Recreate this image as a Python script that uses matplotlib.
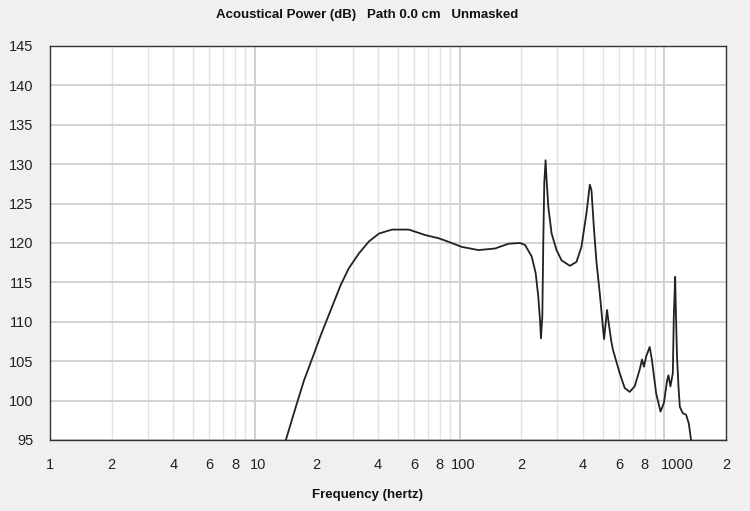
import matplotlib.pyplot as plt
from matplotlib.ticker import FixedLocator, NullFormatter

# frequency (Hz) and acoustical power (dB)
freq = [10, 14.18, 15.86, 17.41, 19.11, 21.0, 23.5, 26.3, 28.8, 32.3, 36.1,
        40.4, 46.8, 56.5, 68.1, 79.0, 85.2, 102.6, 123.7, 149.1, 173.1,
        197.4, 208.7, 224.9, 235.2, 242.3, 247.1, 249.6, 253.5, 256.4,
        259.2, 263.0, 266.0, 271.2, 281.4, 297.5, 314.7, 345.6, 372.2,
        393.6, 416.6, 432.5, 440.6, 452.3, 466, 483.8, 507.6, 525, 535,
        550.8, 561.6, 605, 640, 677, 716, 757, 778, 795, 815, 848, 869,
        912, 958, 995, 1032, 1047, 1071, 1100, 1112, 1129, 1137, 1153,
        1172, 1190, 1230, 1277, 1316, 1350, 1450]
power = [88, 95.0, 99.2, 102.6, 105.4, 108.3, 111.5, 114.7, 116.8, 118.7,
         120.2, 121.2, 121.7, 121.7, 121.0, 120.6, 120.3, 119.5, 119.1,
         119.3, 119.9, 120.0, 119.75, 118.3, 116.2, 113.2, 110.2, 107.9,
         110.6, 120.4, 127.6, 130.5, 128.0, 124.6, 121.2, 119.1, 117.8,
         117.1, 117.6, 119.5, 123.8, 127.4, 126.7, 122.1, 117.6, 113.6,
         107.8, 111.5, 109.8, 107.5, 106.4, 103.5, 101.6, 101.1, 101.8,
         103.9, 105.2, 104.3, 105.6, 106.8, 105.2, 100.9, 98.6, 99.7,
         102.6, 103.2, 101.8, 103.5, 110.6, 115.7, 111.9, 105.6, 101.8,
         99.2, 98.4, 98.2, 97.1, 95.0, 88]

yticks = [95, 100, 105, 110, 115, 120, 125, 130, 135, 140, 145]
xticks = [1, 2, 4, 6, 8, 10, 20, 40, 60, 80, 100, 200, 400, 600, 800, 1000, 2000]
xlabels = ['1', '2', '4', '6', '8', '10', '2', '4', '6', '8', '100',
           '2', '4', '6', '8', '1000', '2']

bg = '#f0f0f0'
fig = plt.figure(figsize=(7.5, 5.11), dpi=100, facecolor=bg)
ax = fig.add_axes([0.0667, 0.139, 0.9013, 0.771])
ax.set_facecolor('white')

ax.set_xscale('log')
ax.set_xlim(1, 2000)
ax.set_ylim(95, 145)

# grid: decades darker, minor lighter
minor = [m * d for d in (1, 10, 100, 1000) for m in range(2, 10) if m * d < 2000]
ax.xaxis.set_major_locator(FixedLocator([1, 10, 100, 1000]))
ax.xaxis.set_minor_locator(FixedLocator(minor))
ax.xaxis.set_major_formatter(NullFormatter())
ax.xaxis.set_minor_formatter(NullFormatter())
ax.grid(True, which='major', axis='x', color='#c8c8c8', lw=1.2)
ax.grid(True, which='minor', axis='x', color='#e2e2e2', lw=1.0)
ax.set_yticks(yticks)
ax.grid(True, which='major', axis='y', color='#cfcfcf', lw=1.3)
ax.set_axisbelow(True)

ax.plot(freq, power, color='#222222', lw=1.3, clip_on=True)

# tick labels as text so the 2,4,6,8 labels sit under minor lines
for xv, lab in zip(xticks, xlabels):
    shift = 1.0
    if lab == '1000':
        shift = 1.16
    elif lab in ('10', '100'):
        shift = 1.04
    ax.text(xv * shift, -0.045, lab, transform=ax.get_xaxis_transform(),
            ha='center', va='top', fontsize=10.5, family='Liberation Sans',
            color='#222222')
ax.tick_params(axis='both', which='both', length=0)
ax.tick_params(axis='y', pad=12, labelsize=10.5, labelcolor='#222222')
for lab in ax.get_yticklabels():
    lab.set_family('Liberation Sans')

for s in ax.spines.values():
    s.set_color('#333333')
    s.set_linewidth(1.0)

fig.text(0.49, 0.971, 'Acoustical Power (dB)   Path 0.0 cm   Unmasked',
         ha='center', va='center', fontsize=9.5, fontweight='bold',
         family='Liberation Sans', color='#111111')
fig.text(0.49, 0.031, 'Frequency (hertz)', ha='center', va='center',
         fontsize=9.5, fontweight='bold', family='Liberation Sans',
         color='#111111')

fig.savefig('out.png', dpi=100, facecolor=bg)
